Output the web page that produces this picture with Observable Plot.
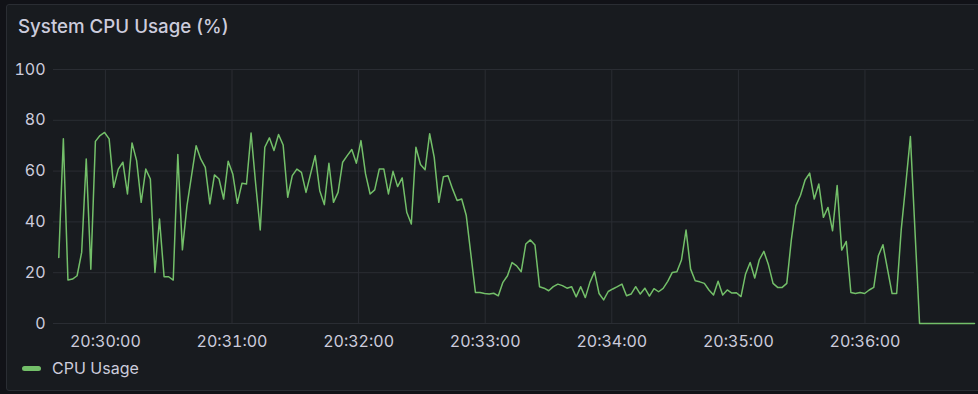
<!DOCTYPE html>
<html>
<head>
<meta charset="utf-8">
<script src="https://cdn.jsdelivr.net/npm/d3@7"></script>
<script src="https://cdn.jsdelivr.net/npm/@observablehq/plot@0.6"></script>
<style>
  html, body { margin: 0; padding: 0; background: #111217; width: 978px; height: 394px; overflow: hidden; }
  #panel { position: absolute; left: 6px; top: 4px; width: 990px; height: 387px; background: #181b1f; border: 1px solid #2a2d33; border-radius: 3px; box-sizing: border-box; }
  #title { position: absolute; left: 18px; top: 15px; font: 500 18.7px Inter, sans-serif; color: #ccccdc; white-space: nowrap; }
  #chart { position: absolute; left: 0; top: 55px; }
  #legend { position: absolute; left: 22px; top: 358px; font: 400 16px Inter, sans-serif; color: #ccccdc; display: flex; align-items: center; }
  #legend .sw { width: 19px; height: 5px; border-radius: 3px; background: #73bf69; margin-right: 11px; }
</style>
</head>
<body>
<div id="panel"></div>
<div id="title">System CPU Usage (%)</div>
<div id="chart"></div>
<div id="legend"><span class="sw"></span><span>CPU Usage</span></div>
<script>
const seriesName = "CPU Usage";
const firstSample = Date.UTC(2024, 0, 1, 20, 29, 37, 900);
const sampleStepMs = 2170;
const domainStart = Date.UTC(2024, 0, 1, 20, 29, 35, 400);
const cpu = [
  26, 72.7, 17.1, 17.5, 18.8, 28, 64.8, 21.4, 71.7, 74,
  75.2, 72.7, 53.6, 60.8, 63.5, 51, 71.1, 64.1, 47.7, 60.8,
  56.9, 20.1, 41.1, 18.4, 18.4, 17.1, 66.5, 29, 46.4, 58.2,
  70, 64.8, 61.5, 47.1, 58.5, 56.9, 49, 63.9, 58.9, 47.3,
  55.2, 54.9, 75, 55, 36.8, 69.4, 73.1, 68.1, 74.4, 70.3,
  49.7, 58.2, 60.8, 59.5, 51.6, 58.9, 66.1, 52.3, 46.8, 63.1,
  47.7, 51.6, 63.5, 66.1, 68.5, 63.1, 72, 58.9, 51, 52.6,
  60.8, 60.8, 51, 59.9, 53.9, 57.3, 43.8, 39.2, 69.4, 62.6,
  60.5, 74.7, 65.4, 47.7, 57.8, 58.2, 53, 48.4, 49, 42.5,
  27.3, 12.2, 12.2, 11.8, 11.6, 11.9, 10.9, 16.2, 18.8, 24,
  22.7, 20.4, 31.3, 32.9, 30.9, 14.5, 13.9, 12.9, 14.5, 15.5,
  14.9, 13.9, 14.5, 10.5, 14.5, 10.2, 16.2, 20.4, 11.8, 9.3,
  12.6, 13.6, 14.5, 15.5, 10.9, 11.6, 14.5, 11.6, 13.9, 10.8,
  13.7, 12.5, 13.8, 16.6, 20.1, 20.4, 25, 36.8, 21.4, 16.8,
  16.4, 15.8, 13.2, 11.2, 16.6, 11.2, 13.2, 12, 12.1, 10.6,
  19.5, 24, 17.9, 25.1, 28.4, 23.1, 15.8, 14.2, 14.2, 15.8,
  33, 46.4, 50.5, 56.5, 59.2, 49, 54.9, 41.8, 45.7, 36.5,
  54.3, 28.9, 32.3, 12.2, 11.8, 12.2, 11.8, 13.2, 14.2, 26.7,
  31, 21.4, 11.8, 11.8, 37, 55, 73.6, 36.5, 0, 0,
  0, 0, 0, 0, 0, 0, 0, 0, 0, 0,
  0
];
const yTicks = [0, 20, 40, 60, 80, 100];
const xTicks = ["20:30:00", "20:31:00", "20:32:00", "20:33:00", "20:34:00", "20:35:00", "20:36:00"];

const data = cpu.map((v, i) => ({ time: new Date(firstSample + i * sampleStepMs), value: v }));
const xTickDates = xTicks.map(s => { const [h, m, sec] = s.split(":").map(Number); return new Date(Date.UTC(2024, 0, 1, h, m, sec)); });
const fmt = d3.utcFormat("%H:%M:%S");
const gridColor = "#2a2d33";

const chart = Plot.plot({
  width: 978,
  height: 300,
  marginLeft: 53,
  marginRight: 4,
  marginTop: 14,
  marginBottom: 32,
  style: { background: "transparent", color: "#ccccdc", fontFamily: "Inter, sans-serif", fontSize: "16px" },
  x: { type: "utc", domain: [new Date(domainStart), data[data.length - 1].time] },
  y: { domain: [0, 100] },
  marks: [
    Plot.gridY(yTicks, { stroke: gridColor, strokeOpacity: 1 }),
    Plot.gridX(xTickDates, { stroke: gridColor, strokeOpacity: 1 }),
    Plot.axisY(yTicks, { tickSize: 0, tickPadding: 8, label: null, fill: "#ccccdc" }),
    Plot.axisX(xTickDates, { tickSize: 0, tickPadding: 12, tickFormat: fmt, label: null, fill: "#ccccdc" }),
    Plot.line(data, { x: "time", y: "value", stroke: "#73bf69", strokeWidth: 1.5, title: () => seriesName })
  ]
});
document.getElementById("chart").appendChild(chart);
</script>
</body>
</html>
